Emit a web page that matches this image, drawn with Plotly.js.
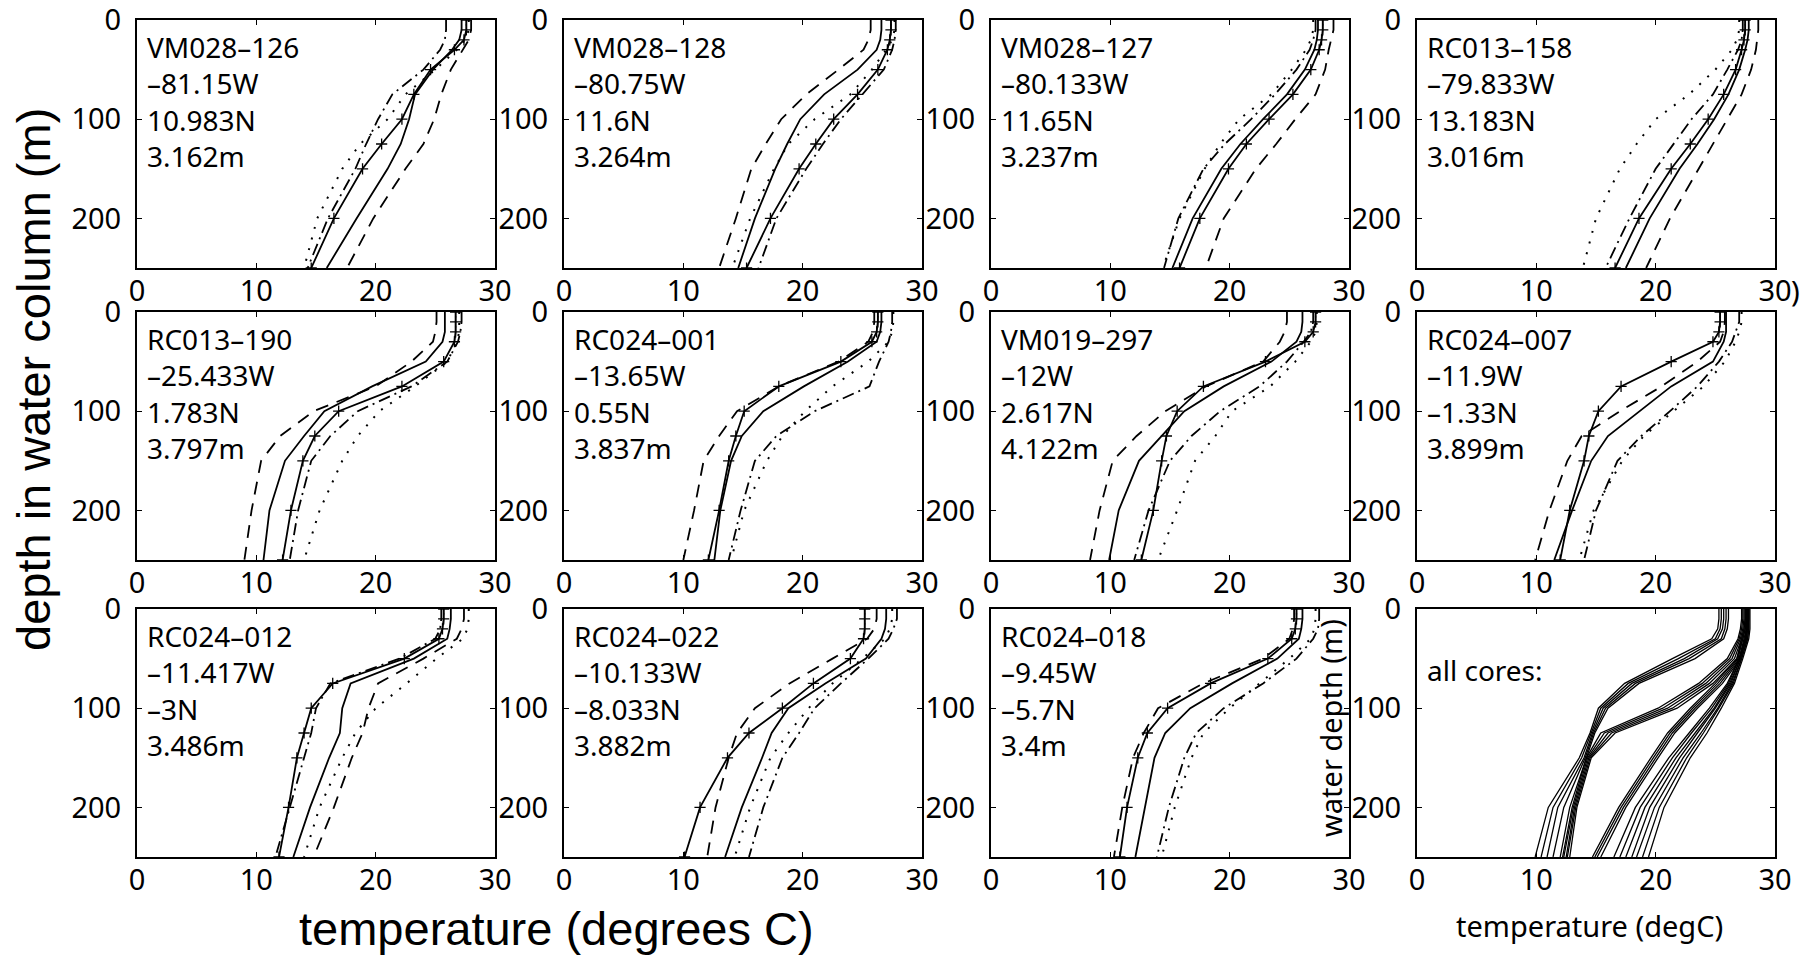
<!DOCTYPE html>
<html><head><meta charset="utf-8">
<script src="https://cdn.plot.ly/plotly-3.0.1.min.js"></script>
<style>html,body{margin:0;padding:0;background:#fff;}#plot{width:1805px;height:958px;}</style>
</head><body><div id="plot"></div>
<script>
// ---------- data ----------
const depths = [0, 10, 20, 30, 50, 75, 100, 125, 150, 200, 250];
const tempTicks = [0, 10, 20, 30];
const depthTicks = [0, 100, 200];

const coreNames = ['VM028–126','VM028–128','VM028–127','RC013–158','RC013–190','RC024–001','VM019–297','RC024–007','RC024–012','RC024–022','RC024–018'];
const coreLon = ['–81.15W','–80.75W','–80.133W','–79.833W','–25.433W','–13.65W','–12W','–11.9W','–11.417W','–10.133W','–9.45W'];
const coreLat = ['10.983N','11.6N','11.65N','13.183N','1.783N','0.55N','2.617N','–1.33N','–3N','–8.033N','–5.7N'];
const coreDepth = ['3.162m','3.264m','3.237m','3.016m','3.797m','3.837m','4.122m','3.899m','3.486m','3.882m','3.4m'];

// solid profile with + markers
const solidA = [
 [27.6,27.6,27.4,26.6,24.6,23.2,22.2,20.5,18.9,16.5,14.6],
 [27.4,27.4,27.3,27.1,26.3,24.6,22.6,21.1,19.7,17.3,15.3],
 [27.8,27.8,27.7,27.5,26.8,25.3,23.3,21.4,19.9,17.5,15.8],
 [27.5,27.5,27.4,27.2,26.7,25.7,24.4,22.9,21.3,18.6,16.6],
 [26.7,26.7,26.7,26.6,25.7,22.2,16.9,14.9,13.9,12.9,12.2],
 [26.3,26.3,26.2,25.8,23.2,18.0,15.1,14.4,13.8,13.0,12.1],
 [27.2,27.2,27.0,26.3,23.0,17.8,15.6,14.7,14.3,13.6,12.6],
 [25.4,25.4,25.3,24.8,21.3,17.1,15.2,14.4,14.0,12.8,12.0],
 [25.7,25.7,25.6,25.3,22.4,16.4,14.6,14.0,13.4,12.7,11.9],
 [25.2,25.2,25.2,25.1,24.0,20.9,18.3,15.5,13.7,11.4,10.1],
 [25.6,25.6,25.5,25.2,23.2,18.4,14.8,13.1,12.3,11.4,10.8]
];
// second solid profile
const solidB = [
 [27.2,27.2,27.0,26.4,24.8,23.3,22.8,22.1,21.0,18.4,15.9],
 [26.6,26.6,26.5,26.2,24.6,21.8,19.8,18.7,17.7,16.0,14.6],
 [27.4,27.4,27.3,27.1,26.3,24.8,22.8,20.9,19.3,16.9,15.2],
 [27.8,27.8,27.7,27.5,27.0,26.1,24.9,23.5,22.0,19.5,17.5],
 [25.8,25.8,25.8,25.6,24.2,19.7,15.7,14.0,12.4,11.1,10.6],
 [26.6,26.6,26.5,26.2,23.8,20.1,16.7,14.9,14.0,13.1,12.6],
 [26.1,26.1,26.0,25.6,23.5,19.5,16.2,14.3,12.4,10.7,9.9],
 [25.9,25.9,25.9,25.7,24.8,21.3,18.6,16.0,14.6,13.0,11.5],
 [26.3,26.3,26.2,26.0,23.2,17.9,17.2,17.0,16.1,14.5,13.1],
 [27.0,27.0,26.9,26.6,25.3,21.9,18.8,17.4,16.6,14.9,13.5],
 [26.1,26.1,26.0,25.8,24.0,20.2,16.7,14.6,13.7,12.9,12.1]
];
const dashedProf = [
 [28.0,28.0,27.8,27.3,26.3,25.5,24.9,24.0,22.5,19.8,17.6],
 [25.7,25.7,25.5,25.1,23.0,20.3,18.2,16.9,15.7,14.4,13.0],
 [28.7,28.7,28.5,28.3,28.0,27.2,25.5,23.9,22.2,19.5,18.0],
 [28.6,28.6,28.5,28.4,28.0,27.2,26.0,24.8,23.6,21.2,19.2],
 [25.1,25.1,25.0,24.8,23.0,20.0,14.8,12.0,10.4,9.6,9.0],
 [26.0,26.0,25.9,25.5,23.0,18.0,14.5,13.0,11.7,10.9,10.0],
 [24.8,24.8,24.6,24.2,22.8,18.0,14.6,12.2,10.2,9.1,8.3],
 [25.8,25.8,25.7,25.4,23.5,20.5,17.0,13.8,12.6,11.1,9.9],
 [27.4,27.4,27.2,26.8,24.0,20.2,19.4,18.9,18.0,16.5,14.8],
 [26.2,26.2,26.0,25.4,22.5,18.9,16.0,14.5,13.8,12.7,12.0],
 [25.4,25.4,25.3,25.0,22.8,17.8,14.0,12.8,11.9,11.0,10.3]
];
const dashdotProf = [
 [25.9,25.9,25.8,25.4,24.0,21.4,20.2,19.2,18.3,16.0,14.3],
 [27.8,27.8,27.7,27.5,26.8,25.0,23.2,21.7,20.3,17.8,16.3],
 [27.2,27.2,27.0,26.7,25.6,23.8,21.8,19.6,17.8,15.7,14.5],
 [27.3,27.3,27.2,26.9,26.0,24.8,23.0,21.5,20.0,17.8,15.8],
 [27.2,27.2,27.1,26.9,26.0,23.0,18.5,16.2,14.6,13.5,12.8],
 [27.5,27.5,27.4,27.2,26.4,25.6,21.0,17.8,16.0,14.8,13.8],
 [27.0,27.0,26.8,26.2,24.8,22.5,19.2,16.8,15.0,13.2,12.0],
 [27.0,27.0,26.7,26.4,25.3,23.5,21.2,18.8,16.8,15.0,14.0],
 [25.5,25.5,25.4,25.0,22.0,16.2,15.0,14.6,14.0,12.8,11.6],
 [27.9,27.9,27.6,27.2,25.5,23.2,21.0,19.7,18.3,16.7,15.5],
 [27.5,27.5,27.4,27.0,25.6,22.8,19.5,17.2,16.2,14.9,13.9]
];
const dottedProf = [
 [27.8,27.8,27.5,26.8,25.0,22.5,21.0,18.7,17.2,15.1,14.0],
 [27.7,27.7,27.5,27.0,25.8,24.0,21.0,18.8,17.6,15.6,14.1],
 [27.0,27.0,26.8,26.4,25.2,23.5,20.8,19.2,17.9,15.8,14.4],
 [27.0,27.0,26.8,26.4,25.0,22.8,20.0,18.4,17.0,15.0,13.9],
 [27.0,27.0,27.0,26.8,26.0,23.3,20.3,18.5,17.2,15.3,14.0],
 [27.6,27.6,27.5,27.2,25.5,22.5,20.2,18.3,17.0,15.1,14.0],
 [27.3,27.3,27.2,26.8,25.5,23.4,20.2,18.8,17.1,15.6,14.0],
 [27.2,27.2,27.0,26.7,25.8,24.0,21.5,19.0,17.2,14.8,13.6],
 [27.8,27.8,27.7,27.3,25.1,22.6,20.0,18.3,17.2,15.3,14.0],
 [27.5,27.5,27.3,26.9,25.0,22.5,20.5,18.8,17.3,15.6,14.3],
 [27.2,27.2,27.1,26.8,25.0,22.5,20.0,17.8,16.8,15.4,14.3]
];
// "all cores" panel
const allShallow = [
 [25.3,25.3,25.2,24.7,21.4,17.4,15.2,14.5,13.6,11.0,9.9],
 [25.5,25.5,25.4,25.0,21.9,17.7,15.4,14.6,13.8,11.4,10.4],
 [25.7,25.7,25.6,25.2,22.4,18.0,15.6,14.7,14.0,11.8,10.9],
 [25.9,25.9,25.8,25.5,22.8,18.3,15.8,14.8,14.1,12.3,11.4],
 [26.1,26.1,26.0,25.7,23.3,18.6,16.0,14.9,14.2,12.8,12.0]
];
const allDeep = [
 [27.2,27.2,27.1,26.9,26.0,23.6,20.2,15.4,14.2,13.0,12.2],
 [27.3,27.3,27.2,27.0,26.2,23.9,20.6,15.7,14.3,13.1,12.3],
 [27.4,27.4,27.3,27.1,26.4,24.2,21.0,16.0,14.4,13.2,12.5],
 [27.5,27.5,27.4,27.2,26.6,24.5,21.4,16.3,14.5,13.3,12.6],
 [27.6,27.6,27.5,27.3,26.8,24.8,21.8,16.6,14.6,13.4,12.8]
];
const allWarmA = [
 [27.5,27.5,27.4,27.2,26.8,25.0,22.9,21.0,19.6,16.9,14.7],
 [27.6,27.6,27.5,27.3,26.9,25.2,23.1,21.2,19.8,17.1,14.9],
 [27.7,27.7,27.6,27.4,27.0,25.4,23.3,21.4,20.0,17.3,15.1],
 [27.8,27.8,27.7,27.5,27.1,25.6,23.5,21.6,20.2,17.5,15.4]
];
const allWarmB = [
 [27.6,27.6,27.6,27.5,27.0,26.0,24.5,22.8,21.1,18.3,16.5],
 [27.6,27.6,27.6,27.5,27.0,26.1,24.7,23.0,21.4,18.7,17.0],
 [27.7,27.7,27.7,27.6,27.1,26.2,24.9,23.3,21.7,19.1,17.5],
 [27.7,27.7,27.7,27.6,27.1,26.3,25.0,23.5,22.0,19.5,18.0],
 [27.8,27.8,27.8,27.7,27.2,26.4,25.2,23.8,22.3,19.9,18.4],
 [27.8,27.8,27.8,27.7,27.2,26.5,25.3,24.0,22.6,20.3,18.9],
 [27.9,27.9,27.9,27.8,27.3,26.6,25.5,24.3,22.9,20.7,19.4]
];

// ---------- layout geometry (pixels) ----------
const W = 1805, H = 958;
const colLeft = [137, 564, 991, 1417], panelW = 358;
const rowTop = [20, 312, 609], panelH = 248;
const px = v => v / W, py = v => 1 - v / H;
const smallFont = {family: 'Noto Sans, sans-serif', size: 29, color: '#000'};
const noteFont = {family: 'Noto Sans, sans-serif', size: 28, color: '#000'};
const bigFont = {family: 'Liberation Sans, Arial, sans-serif', size: 47, color: '#000'};

const traces = [];
const layout = {
  width: W, height: H, margin: {l: 0, r: 0, t: 0, b: 0},
  paper_bgcolor: '#fff', plot_bgcolor: '#fff', showlegend: false,
  annotations: []
};
const ax = k => (k === 1 ? '' : String(k));

for (let k = 1; k <= 12; k++) {
  const r = Math.floor((k - 1) / 4), c = (k - 1) % 4;
  const L = colLeft[c], T = rowTop[r];
  const common = {
    showline: true, linewidth: 2, linecolor: '#000', mirror: 'ticks',
    ticks: 'inside', ticklen: 5, tickwidth: 1, tickcolor: '#000',
    showgrid: false, zeroline: false, tickfont: smallFont, fixedrange: true,
    ticklabeloverflow: 'allow'
  };
  layout['xaxis' + ax(k)] = Object.assign({}, common, {
    domain: [px(L), px(L + panelW)], range: [0, 30], tickvals: tempTicks,
    ticktext: tempTicks.map(String), anchor: 'y' + ax(k), ticklabelstandoff: -4
  });
  layout['yaxis' + ax(k)] = Object.assign({}, common, {
    domain: [py(T + panelH), py(T)], range: [250, 0], tickvals: depthTicks,
    ticktext: depthTicks.map(String), anchor: 'x' + ax(k), ticklabelstandoff: 8
  });
}

const addLine = (k, xs, dash, width, markers) => {
  const t = {
    type: 'scatter', x: xs, y: depths, xaxis: 'x' + ax(k), yaxis: 'y' + ax(k),
    mode: markers ? 'lines+markers' : 'lines', cliponaxis: true,
    line: {color: '#000', width: width, dash: dash}, hoverinfo: 'skip'
  };
  if (markers) t.marker = {symbol: 'cross-thin', size: 8, line: {color: '#000', width: 1.3}, color: '#000'};
  traces.push(t);
};

for (let i = 0; i < 11; i++) {
  const k = i + 1;
  addLine(k, dottedProf[i], '2px,9px', 2, false);
  addLine(k, dashdotProf[i], '12px,5px,2px,5px', 1.8, false);
  addLine(k, dashedProf[i], '13px,9px', 1.8, false);
  addLine(k, solidB[i], 'solid', 1.8, false);
  addLine(k, solidA[i], 'solid', 1.8, true);

  const r = Math.floor(i / 4), c = i % 4;
  const L = colLeft[c], T = rowTop[r];
  layout.annotations.push({
    text: [coreNames[i], coreLon[i], coreLat[i], coreDepth[i]].join('<br>'),
    xref: 'paper', yref: 'paper', x: px(L + 9), y: py(T + 7), align: 'left',
    xanchor: 'left', yanchor: 'top', showarrow: false, font: noteFont, borderpad: 0
  });
}
[allShallow, allDeep, allWarmA, allWarmB].forEach(g => g.forEach(xs => addLine(12, xs, 'solid', 1.3, false)));

// panel 12 labels
layout.annotations.push({text: 'all cores:', xref: 'paper', yref: 'paper', x: px(1426), y: py(670),
  xanchor: 'left', yanchor: 'middle', showarrow: false, font: noteFont, borderpad: 0});
layout.annotations.push({text: 'water depth (m)', xref: 'paper', yref: 'paper', x: px(1330), y: py(728),
  xanchor: 'center', yanchor: 'middle', textangle: -90, showarrow: false, font: smallFont, borderpad: 0});
layout.annotations.push({text: 'temperature (degC)', xref: 'paper', yref: 'paper', x: px(1589), y: py(925),
  xanchor: 'center', yanchor: 'middle', showarrow: false, font: smallFont, borderpad: 0});
layout.annotations.push({text: ')', xref: 'paper', yref: 'paper', x: px(1790), y: py(290),
  xanchor: 'left', yanchor: 'middle', showarrow: false, font: smallFont, borderpad: 0});
// overall axis labels
layout.annotations.push({text: 'depth in water column (m)', xref: 'paper', yref: 'paper', x: px(34), y: py(380),
  xanchor: 'center', yanchor: 'middle', textangle: -90, showarrow: false, font: bigFont, borderpad: 0});
layout.annotations.push({text: 'temperature (degrees C)', xref: 'paper', yref: 'paper', x: px(556), y: py(928),
  xanchor: 'center', yanchor: 'middle', showarrow: false, font: bigFont, borderpad: 0});

Plotly.newPlot('plot', traces, layout, {staticPlot: true, displayModeBar: false});
</script>
</body></html>
